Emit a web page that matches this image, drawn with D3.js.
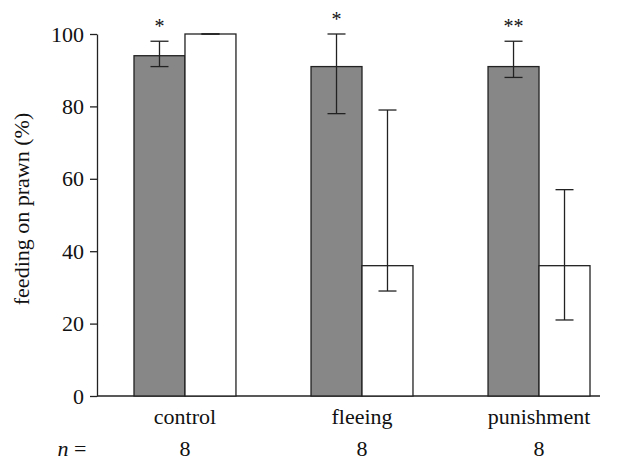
<!DOCTYPE html>
<html>
<head>
<meta charset="utf-8">
<script src="https://cdn.jsdelivr.net/npm/d3@7"></script>
<style>
  body { margin: 0; background: #fff; }
  #chart text { font-family: "Liberation Serif", "Times New Roman", Times, Tinos, "Noto Serif", "DejaVu Serif", FreeSerif, serif !important; }
</style>
</head>
<body>
<svg id="chart" width="624" height="461"></svg>
<script>
// data
var groups = ["control", "fleeing", "punishment"];
var nValues = [8, 8, 8];
var grayMean = [94, 91, 91];
var grayLow = [91, 78, 88];
var grayHigh = [98, 100, 98];
var whiteMean = [100, 36, 36];
var whiteLow = [100, 29, 21];
var whiteHigh = [100, 79, 57];
var stars = ["*", "*", "**"];
var yTicks = [0, 20, 40, 60, 80, 100];

var svg = d3.select("#chart");

var x0 = d3.scaleBand()
    .domain(groups)
    .range([97, 627])
    .paddingInner(0.424)
    .paddingOuter(0.209);

var x1 = d3.scaleBand()
    .domain(["gray", "white"])
    .range([0, x0.bandwidth()]);

var y = d3.scaleLinear()
    .domain([0, 100])
    .range([396, 34]);

// y axis
var yAxis = d3.axisLeft(y)
    .tickValues(yTicks)
    .tickSize(7)
    .tickSizeOuter(0)
    .tickPadding(6);

var gy = svg.append("g")
    .attr("transform", "translate(97,0)")
    .call(yAxis)
    .attr("font-size", 22);
gy.select(".domain").attr("stroke", "#222").attr("stroke-width", 1.3);
gy.selectAll(".tick line").attr("stroke", "#222").attr("stroke-width", 1.3);
gy.selectAll(".tick text").attr("fill", "#111");

svg.append("text")
    .attr("transform", "translate(29,209) rotate(-90)")
    .attr("text-anchor", "middle")
    .attr("font-size", 22)
    .attr("fill", "#111")
    .text("feeding on prawn (%)");

// x axis line
svg.append("line")
    .attr("x1", 97).attr("x2", 600)
    .attr("y1", y(0)).attr("y2", y(0))
    .attr("stroke", "#222").attr("stroke-width", 1.3);

var rows = groups.map(function(g, i) {
  return [
    { g: g, key: "gray", mean: grayMean[i], lo: grayLow[i], hi: grayHigh[i] },
    { g: g, key: "white", mean: whiteMean[i], lo: whiteLow[i], hi: whiteHigh[i] }
  ];
});

var grp = svg.selectAll(".grp")
    .data(rows)
    .enter().append("g")
    .attr("class", "grp")
    .attr("transform", function(d, i) { return "translate(" + x0(groups[i]) + ",0)"; });

grp.selectAll("rect")
    .data(function(d) { return d; })
    .enter().append("rect")
    .attr("x", function(d) { return x1(d.key); })
    .attr("y", function(d) { return y(d.mean); })
    .attr("width", x1.bandwidth())
    .attr("height", function(d) { return y(0) - y(d.mean); })
    .attr("fill", function(d) { return d.key === "gray" ? "#878787" : "#fff"; })
    .attr("stroke", "#222")
    .attr("stroke-width", 1.3);

// error bars
var cap = 9;
var eb = grp.selectAll(".eb")
    .data(function(d) { return d; })
    .enter().append("g")
    .attr("class", "eb")
    .attr("stroke", "#222")
    .attr("stroke-width", 1.3);

eb.append("line")
    .attr("x1", function(d) { return x1(d.key) + x1.bandwidth() / 2; })
    .attr("x2", function(d) { return x1(d.key) + x1.bandwidth() / 2; })
    .attr("y1", function(d) { return y(d.lo); })
    .attr("y2", function(d) { return y(d.hi); });

eb.append("line")
    .attr("x1", function(d) { return x1(d.key) + x1.bandwidth() / 2 - cap; })
    .attr("x2", function(d) { return x1(d.key) + x1.bandwidth() / 2 + cap; })
    .attr("y1", function(d) { return y(d.hi); })
    .attr("y2", function(d) { return y(d.hi); });

eb.append("line")
    .attr("x1", function(d) { return x1(d.key) + x1.bandwidth() / 2 - cap; })
    .attr("x2", function(d) { return x1(d.key) + x1.bandwidth() / 2 + cap; })
    .attr("y1", function(d) { return y(d.lo); })
    .attr("y2", function(d) { return y(d.lo); });

// significance stars
grp.append("text")
    .attr("x", x1("gray") + x1.bandwidth() / 2)
    .attr("y", function(d, i) { return y(grayHigh[i]) - 8; })
    .attr("text-anchor", "middle")
    .attr("font-size", 20)
    .attr("fill", "#111")
    .text(function(d, i) { return stars[i]; });

// category labels
svg.selectAll(".cat")
    .data(groups)
    .enter().append("text")
    .attr("class", "cat")
    .attr("x", function(d) { return x0(d) + x0.bandwidth() / 2; })
    .attr("y", 424)
    .attr("text-anchor", "middle")
    .attr("font-size", 22)
    .attr("fill", "#111")
    .text(function(d) { return d; });

// n row
svg.append("text")
    .attr("x", 72)
    .attr("y", 456)
    .attr("text-anchor", "middle")
    .attr("font-size", 22)
    .attr("fill", "#111")
    .html('<tspan font-style="italic">n</tspan> =');

svg.selectAll(".nval")
    .data(groups)
    .enter().append("text")
    .attr("class", "nval")
    .attr("x", function(d) { return x0(d) + x0.bandwidth() / 2; })
    .attr("y", 456)
    .attr("text-anchor", "middle")
    .attr("font-size", 22)
    .attr("fill", "#111")
    .text(function(d, i) { return nValues[i]; });
</script>
</body>
</html>
